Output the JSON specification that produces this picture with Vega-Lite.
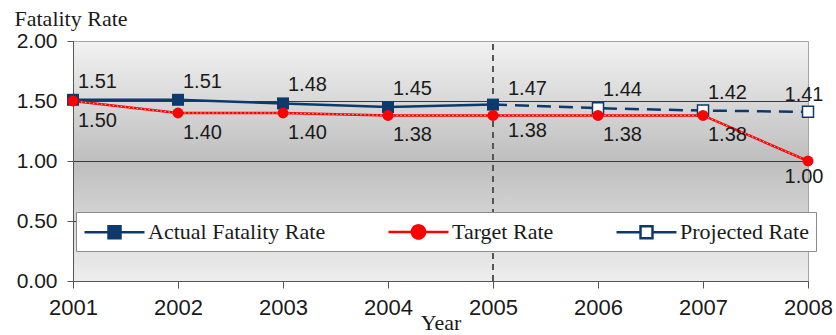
{
  "$schema": "https://vega.github.io/schema/vega-lite/v6.json",
  "width": 735,
  "height": 240,
  "autosize": "none",
  "padding": {"left": 73, "top": 41, "right": 28, "bottom": 54},
  "background": "white",
  "config": {
    "font": "Liberation Sans",
    "view": {
      "stroke": "#a6a6a6",
      "strokeWidth": 1,
      "fill": {
        "gradient": "linear",
        "x1": 0, "y1": 0, "x2": 0, "y2": 1,
        "stops": [
          {"offset": 0, "color": "#f2f2f2"},
          {"offset": 0.5, "color": "#bebebe"},
          {"offset": 1, "color": "#eeeeee"}
        ]
      }
    },
    "text": {"font": "Liberation Sans", "fontSize": 20, "color": "#1a1a1a"}
  },
  "data": {
    "values": [
      {"year": 2001, "series": "Actual Fatality Rate", "rate": 1.51},
      {"year": 2002, "series": "Actual Fatality Rate", "rate": 1.51},
      {"year": 2003, "series": "Actual Fatality Rate", "rate": 1.48},
      {"year": 2004, "series": "Actual Fatality Rate", "rate": 1.45},
      {"year": 2005, "series": "Actual Fatality Rate", "rate": 1.47},
      {"year": 2001, "series": "Target Rate", "rate": 1.50},
      {"year": 2002, "series": "Target Rate", "rate": 1.40},
      {"year": 2003, "series": "Target Rate", "rate": 1.40},
      {"year": 2004, "series": "Target Rate", "rate": 1.38},
      {"year": 2005, "series": "Target Rate", "rate": 1.38},
      {"year": 2006, "series": "Target Rate", "rate": 1.38},
      {"year": 2007, "series": "Target Rate", "rate": 1.38},
      {"year": 2008, "series": "Target Rate", "rate": 1.00},
      {"year": 2005, "series": "Projected Rate", "rate": 1.47},
      {"year": 2006, "series": "Projected Rate", "rate": 1.44},
      {"year": 2007, "series": "Projected Rate", "rate": 1.42},
      {"year": 2008, "series": "Projected Rate", "rate": 1.41}
    ]
  },
  "encoding": {
    "x": {
      "field": "year",
      "type": "quantitative",
      "scale": {"domain": [2001, 2008], "nice": false, "zero": false},
      "axis": {
        "values": [2001, 2002, 2003, 2004, 2005, 2006, 2007, 2008],
        "format": "d",
        "grid": false,
        "labelFont": "Liberation Sans",
        "labelFontSize": 22,
        "labelColor": "#1a1a1a",
        "labelPadding": 9,
        "labelFlush": false,
        "tickSize": 7,
        "tickColor": "#555555",
        "domainColor": "#555555",
        "title": "Year",
        "titleFont": "Liberation Serif",
        "titleFontSize": 22,
        "titleFontWeight": "normal",
        "titleColor": "#1a1a1a",
        "titlePadding": -6
      }
    },
    "y": {
      "field": "rate",
      "type": "quantitative",
      "scale": {"domain": [0, 2], "nice": false},
      "axis": {
        "values": [0, 0.5, 1, 1.5, 2],
        "format": ".2f",
        "grid": true,
        "gridColor": {"condition": {"test": "datum.value === 2", "value": "#a6a6a6"}, "value": "#3a3a3a"},
        "gridWidth": 1,
        "labelFont": "Liberation Sans",
        "labelFontSize": 21,
        "labelColor": "#1a1a1a",
        "labelPadding": 10,
        "tickSize": 6,
        "tickColor": "#555555",
        "domainColor": "#555555",
        "title": "Fatality Rate",
        "titleAngle": 0,
        "titleAlign": "left",
        "titleBaseline": "alphabetic",
        "titleX": -59,
        "titleY": -16,
        "titleFont": "Liberation Serif",
        "titleFontSize": 22,
        "titleFontWeight": "normal",
        "titleColor": "#1a1a1a"
      }
    }
  },
  "layer": [
    {
      "mark": {"type": "rule", "color": "#555555", "strokeWidth": 1.5, "strokeDash": [6, 5]},
      "encoding": {"x": {"datum": 2005}, "y": {"datum": 0}, "y2": {"datum": 2}}
    },
    {
      "transform": [{"filter": "datum.series === 'Projected Rate'"}],
      "mark": {"type": "line", "color": "#0c3a6c", "strokeWidth": 2.5, "strokeDash": [14, 8]}
    },
    {
      "transform": [{"filter": "datum.series !== 'Projected Rate'"}],
      "mark": {"type": "line", "strokeWidth": 2.5},
      "encoding": {
        "color": {
          "field": "series",
          "type": "nominal",
          "scale": {
            "domain": ["Actual Fatality Rate", "Target Rate", "Projected Rate"],
            "range": ["#0c3a6c", "#ff0000", "#0c3a6c"]
          },
          "legend": {
            "orient": "none",
            "legendX": 3,
            "legendY": 171,
            "zindex": 1,
            "direction": "horizontal",
            "title": null,
            "labelFont": "Liberation Serif",
            "labelFontSize": 22,
            "labelColor": "#1a1a1a",
            "labelLimit": 400,
            "labelOffset": 21,
            "symbolOffset": 19,
            "columnPadding": 57,
            "padding": 7,
            "fillColor": "#ffffff",
            "strokeColor": "#8c8c8c",
            "symbolSize": 484,
            "symbolStrokeWidth": 2.5,
            "symbolType": "M-2.727,0H-0.545M0.545,0H2.727M-0.545,-0.545H0.545V0.545H-0.545Z",
            "encode": {
              "symbols": {
                "update": {
                  "shape": [
                    {"test": "datum.value === 'Target Rate'", "value": "M-2.727,0H-0.6M0.6,0H2.727M-0.6,0A0.6,0.6 0 1,0 0.6,0A0.6,0.6 0 1,0 -0.6,0Z"},
                    {"value": "M-2.727,0H-0.545M0.545,0H2.727M-0.545,-0.545H0.545V0.545H-0.545Z"}
                  ],
                  "fill": [
                    {"test": "datum.value === 'Actual Fatality Rate'", "value": "#0c3a6c"},
                    {"test": "datum.value === 'Target Rate'", "value": "#ff0000"},
                    {"value": "#ffffff"}
                  ],
                  "stroke": [
                    {"test": "datum.value === 'Target Rate'", "value": "#ff0000"},
                    {"value": "#0c3a6c"}
                  ],
                  "fillOpacity": {"value": 1},
                  "opacity": {"value": 1},
                  "strokeWidth": {"value": 2.5},
                  "strokeDash": {"value": [1, 0]}
                }
              }
            }
          }
        }
      }
    },
    {
      "transform": [{"filter": "datum.series === 'Target Rate'"}],
      "mark": {"type": "line", "color": "#ffc4c4", "strokeWidth": 1, "strokeDash": [1.5, 2.5]}
    },
    {
      "transform": [{"filter": "datum.series === 'Actual Fatality Rate'"}],
      "mark": {"type": "point", "shape": "square", "filled": true, "color": "#0c3a6c", "size": 144, "opacity": 1}
    },
    {
      "transform": [{"filter": "datum.series === 'Projected Rate' && datum.year > 2005"}],
      "mark": {"type": "point", "shape": "square", "filled": false, "fill": "#ffffff", "stroke": "#0c3a6c", "strokeWidth": 1.5, "size": 121, "opacity": 1}
    },
    {
      "transform": [{"filter": "datum.series === 'Target Rate'"}],
      "mark": {"type": "point", "shape": "circle", "filled": true, "color": "#ff0000", "size": 120, "opacity": 1}
    },
    {
      "transform": [{"filter": "(datum.series === 'Actual Fatality Rate' && datum.year < 2005) || (datum.series === 'Projected Rate' && datum.year > 2005 && datum.year < 2008)"}],
      "mark": {"type": "text", "align": "left", "baseline": "middle", "dx": 5, "dy": -18},
      "encoding": {"text": {"field": "rate", "type": "quantitative", "format": ".2f"}}
    },
    {
      "transform": [{"filter": "datum.series === 'Actual Fatality Rate' && datum.year === 2005"}],
      "mark": {"type": "text", "align": "left", "baseline": "middle", "dx": 15, "dy": -16},
      "encoding": {"text": {"field": "rate", "type": "quantitative", "format": ".2f"}}
    },
    {
      "transform": [{"filter": "datum.series === 'Projected Rate' && datum.year === 2008"}],
      "mark": {"type": "text", "align": "center", "baseline": "middle", "dx": -4, "dy": -17},
      "encoding": {"text": {"field": "rate", "type": "quantitative", "format": ".2f"}}
    },
    {
      "transform": [{"filter": "datum.series === 'Target Rate' && datum.year !== 2005 && datum.year < 2008"}],
      "mark": {"type": "text", "align": "left", "baseline": "middle", "dx": 5, "dy": 20},
      "encoding": {"text": {"field": "rate", "type": "quantitative", "format": ".2f"}}
    },
    {
      "transform": [{"filter": "datum.series === 'Target Rate' && datum.year === 2005"}],
      "mark": {"type": "text", "align": "left", "baseline": "middle", "dx": 15, "dy": 16},
      "encoding": {"text": {"field": "rate", "type": "quantitative", "format": ".2f"}}
    },
    {
      "transform": [{"filter": "datum.series === 'Target Rate' && datum.year === 2008"}],
      "mark": {"type": "text", "align": "center", "baseline": "middle", "dx": -4, "dy": 16},
      "encoding": {"text": {"field": "rate", "type": "quantitative", "format": ".2f"}}
    }
  ]
}
